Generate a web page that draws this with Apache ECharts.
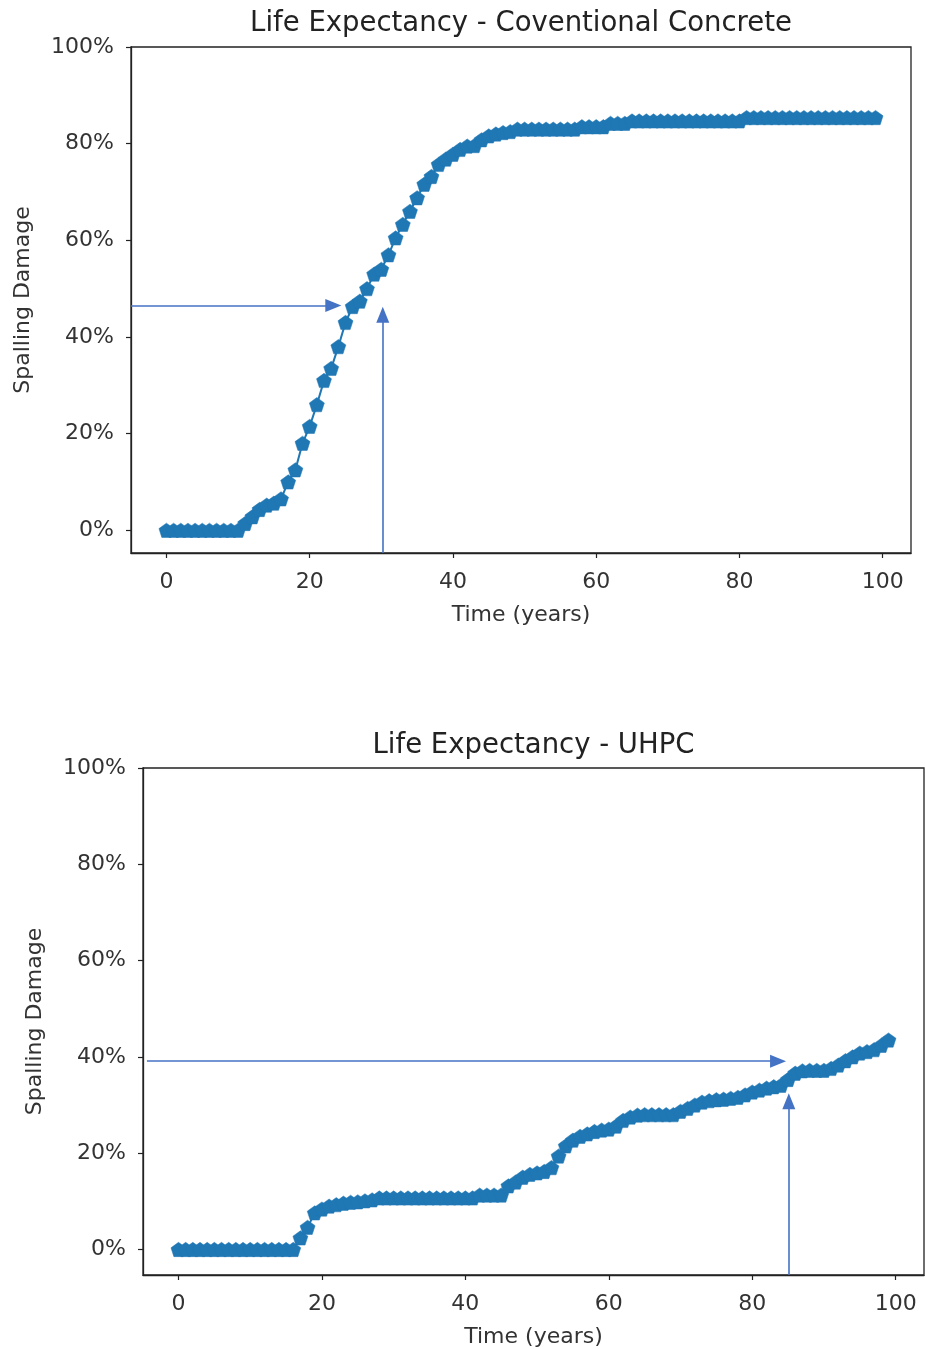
<!DOCTYPE html>
<html><head><meta charset="utf-8">
<script src="https://cdn.jsdelivr.net/npm/echarts@6/dist/echarts.min.js"></script>
<style>html,body{margin:0;padding:0;background:#fff}#c{width:925px;height:1349px}</style>
</head><body><div id="c"></div>
<script>
// ---- data ----
const years = [0,1,2,3,4,5,6,7,8,9,10,11,12,13,14,15,16,17,18,19,20,21,22,23,24,25,26,27,28,29,30,31,32,33,34,35,36,37,38,39,40,41,42,43,44,45,46,47,48,49,50,51,52,53,54,55,56,57,58,59,60,61,62,63,64,65,66,67,68,69,70,71,72,73,74,75,76,77,78,79,80,81,82,83,84,85,86,87,88,89,90,91,92,93,94,95,96,97,98,99];
// Spalling damage (%) - conventional concrete
const conventional = [
  0,0,0,0,0,0,0,0,0,0,0,
  1.4,2.8,4.3,5.2,5.6,6.5,10,12.5,18,21.5,
  26,31,33.5,38,43,46.3,47.4,50,53,54,
  57,60.5,63.3,66,68.8,71.6,73.2,75.7,76.8,77.8,
  78.8,79.5,79.6,80.8,81.6,82,82.3,82.5,83,83,
  83,83,83,83,83,83,83,83.5,83.5,83.5,
  83.5,84.2,84.2,84.2,
  84.7,84.7,84.7,84.7,84.7,84.7,84.7,84.7,84.7,84.7,84.7,84.7,84.7,84.7,84.7,84.7,
  85.4,85.4,85.4,85.4,85.4,85.4,85.4,85.4,85.4,85.4,85.4,85.4,85.4,85.4,85.4,85.4,85.4,85.4,85.4
];
// Spalling damage (%) - UHPC
const uhpc = [
  0,0,0,0,0,0,0,0,0,0,0,0,0,0,0,0,0,
  2.4,4.6,7.6,8.4,9.0,9.3,9.6,9.8,9.9,10.1,10.3,10.7,
  10.7,10.7,10.7,10.7,10.7,10.7,10.7,10.7,10.7,10.7,10.7,10.7,10.7,
  11.3,11.3,11.3,11.3,
  13.2,14.0,15.0,15.6,15.9,16.2,17.0,19.4,21.5,22.7,23.5,24.0,24.5,24.8,25.0,25.6,26.8,27.5,27.9,
  28.0,28.0,28.0,28.0,28.0,
  28.7,29.3,30.0,30.6,30.9,31.1,31.2,31.4,31.6,32.1,32.7,33.1,33.5,33.8,34.1,35.3,36.6,37.1,
  37.2,37.2,37.2,
  37.6,38.3,39.2,40.0,40.8,41.1,41.5,42.4,43.5
];
const xTicks = [0,20,40,60,80,100];
const yTicks = [0,20,40,60,80,100];
const titles = ['Life Expectancy - Coventional Concrete','Life Expectancy - UHPC'];
const xName = 'Time (years)';
const yName = 'Spalling Damage';
// annotation arrows [start, end] in data units (years, %)
const topArrowH = [[-4.95,46.5],[23.3,46.5]];
const topArrowV = [[30.2,-4.7],[30.2,44.6]];
const botArrowH = [[-4.4,39.1],[83.6,39.1]];
const botArrowV = [[85.1,-5.3],[85.1,30.8]];

// ---- chart ----
const FONT = 'DejaVu Sans';
const BLUE = '#1f77b4';
const ARROW = '#4472C4';
const pentagon = 'path://M0,-100 L95.1,-30.9 L58.8,80.9 L-58.8,80.9 L-95.1,-30.9 Z';

function pairs(v){ return years.map((y,i)=>[y, v[i]]); }

function xAxis(gi){
  return {
    gridIndex: gi, type:'value', min:-4.95, max:103.95,
    axisLine:{show:true, onZero:false, lineStyle:{color:'#222', width:1.3}},
    axisTick:{show:true, customValues:xTicks, length:5, lineStyle:{color:'#222', width:1.2}},
    axisLabel:{customValues:xTicks, fontSize:22, color:'#333', fontFamily:FONT, margin:18},
    splitLine:{show:false},
    name:xName, nameLocation:'middle', nameGap:51,
    nameTextStyle:{fontSize:22, color:'#333', fontFamily:FONT}
  };
}
function yAxis(gi, min){
  return {
    gridIndex: gi, type:'value', min:min, max:100,
    axisLine:{show:true, onZero:false, lineStyle:{color:'#222', width:1.3}},
    axisTick:{show:true, customValues:yTicks, length:5, lineStyle:{color:'#222', width:1.2}},
    axisLabel:{customValues:yTicks, fontSize:22, color:'#333', fontFamily:FONT, margin:17,
      formatter:v=>v+'%'},
    splitLine:{show:false},
    name:yName, nameLocation:'middle', nameGap:97, nameRotate:90,
    nameTextStyle:{fontSize:22, color:'#333', fontFamily:FONT}
  };
}
function arrowLines(a, b){
  return {
    silent:true, animation:false,
    symbol:['none','triangle'], symbolSize:[13,16],
    lineStyle:{color:ARROW, width:1.6, type:'solid', opacity:1},
    itemStyle:{color:ARROW},
    label:{show:false}, emphasis:{disabled:true},
    data:[
      [{coord:a[0]},{coord:a[1]}],
      [{coord:b[0]},{coord:b[1]}]
    ]
  };
}
function series(gi, v, ml){
  return {
    type:'line', xAxisIndex:gi, yAxisIndex:gi, data:pairs(v),
    symbol:pentagon, symbolSize:[15,14.3], showAllSymbol:true,
    lineStyle:{color:BLUE, width:2},
    itemStyle:{color:BLUE, borderColor:BLUE, borderWidth:0.5},
    animation:false, silent:true, clip:false,
    markLine: ml
  };
}

const chart = echarts.init(document.getElementById('c'));
chart.setOption({
  backgroundColor:'#fff',
  animation:false,
  grid:[
    {left:131, top:47, width:780, height:506, show:true, borderColor:'#222', borderWidth:1.3},
    {left:143, top:768, width:781, height:507, show:true, borderColor:'#222', borderWidth:1.3}
  ],
  xAxis:[xAxis(0), xAxis(1)],
  yAxis:[yAxis(0,-4.7), yAxis(1,-5.3)],
  series:[
    series(0, conventional, arrowLines(topArrowH, topArrowV)),
    series(1, uhpc, arrowLines(botArrowH, botArrowV))
  ],
  graphic:[
    {type:'text', x:521, y:24, style:{text:titles[0], fontSize:27.5, fontFamily:FONT, fill:'#222', textAlign:'center', textVerticalAlign:'middle'}},
    {type:'text', x:533.5, y:746, style:{text:titles[1], fontSize:27.5, fontFamily:FONT, fill:'#222', textAlign:'center', textVerticalAlign:'middle'}}
  ]
});
</script></body></html>
